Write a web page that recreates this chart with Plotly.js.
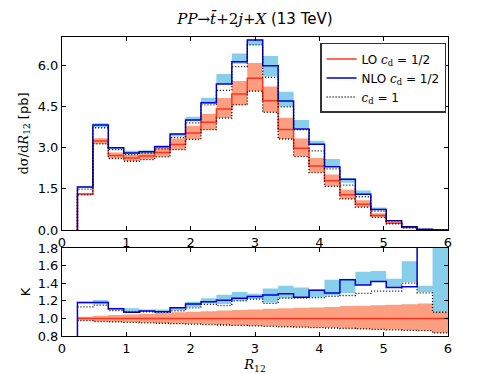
<!DOCTYPE html>
<html>
<head>
<meta charset="utf-8">
<script src="https://cdn.plot.ly/plotly-3.0.1.min.js"></script>
<style>
  html, body { margin: 0; padding: 0; background: #fff; }
  #plot { width: 498px; height: 374px; }
</style>
</head>
<body>
<div id="plot"></div>
<script>
// bin edges in R12 (24 bins)
const binEdges = [0.24, 0.48, 0.72, 0.96, 1.20, 1.44, 1.68, 1.92, 2.16, 2.40, 2.64, 2.88,
                  3.12, 3.36, 3.60, 3.84, 4.08, 4.32, 4.56, 4.80, 5.04, 5.28, 5.52, 5.76, 6.00];

// top panel: dsigma/dR12 [pb]
const loCentral = [1.31, 3.24, 2.71, 2.62, 2.69, 2.82, 3.11, 3.53, 3.92, 4.40, 4.95, 5.52,
                   4.70, 3.66, 2.97, 2.33, 1.79, 1.28, 0.94, 0.53, 0.25, 0.088, 0.012, 0.002];
const loHigh    = [1.34, 3.34, 2.82, 2.74, 2.82, 2.99, 3.33, 3.79, 4.23, 4.80, 5.42, 6.07,
                   5.22, 4.08, 3.33, 2.62, 2.02, 1.46, 1.08, 0.61, 0.29, 0.10, 0.014, 0.002];
const loCd1     = [1.28, 3.13, 2.60, 2.50, 2.56, 2.66, 2.92, 3.30, 3.65, 4.07, 4.55, 5.05,
                   4.28, 3.31, 2.67, 2.09, 1.59, 1.13, 0.83, 0.46, 0.22, 0.076, 0.010, 0.002];
const nloCentral = [1.56, 3.82, 2.99, 2.80, 2.85, 3.03, 3.49, 4.00, 4.63, 5.31, 6.12, 6.91,
                    5.97, 4.69, 3.67, 3.12, 2.30, 1.85, 1.30, 0.75, 0.34, 0.12, 0.025, 0.004];
const nloLow    = [1.55, 3.74, 2.94, 2.76, 2.82, 2.98, 3.40, 3.96, 4.58, 5.31, 6.05, 6.73,
                   5.58, 4.48, 3.70, 3.10, 2.30, 1.72, 1.30, 0.75, 0.34, 0.12, 0.02, 0.003];
const nloHigh   = [1.60, 3.88, 3.02, 2.88, 2.90, 3.08, 3.52, 4.12, 4.81, 5.67, 6.42, 6.93,
                   6.33, 5.03, 4.00, 3.25, 2.58, 1.88, 1.44, 0.82, 0.36, 0.145, 0.03, 0.005];
const nloCd1    = [1.49, 3.72, 2.92, 2.74, 2.80, 2.95, 3.36, 3.90, 4.55, 5.08, 5.94, 6.73,
                   5.55, 4.48, 3.65, 2.88, 2.22, 1.63, 1.21, 0.69, 0.33, 0.12, 0.02, 0.003];

// bottom panel: K factor and LO ratio
const kCentral = [1.18, 1.18, 1.11, 1.07, 1.085, 1.075, 1.12, 1.165, 1.19, 1.205, 1.23, 1.25,
                  1.265, 1.28, 1.24, 1.32, 1.29, 1.44, 1.38, 1.42, 1.35, 1.36, 2.5, 2.5];
const kLow     = [1.17, 1.16, 1.10, 1.07, 1.08, 1.07, 1.09, 1.13, 1.17, 1.16, 1.20, 1.22,
                  1.18, 1.23, 1.24, 1.24, 1.26, 1.29, 1.38, 1.42, 1.355, 1.41, 1.30, 1.07];
const kHigh    = [1.19, 1.21, 1.12, 1.115, 1.10, 1.10, 1.13, 1.19, 1.23, 1.27, 1.30, 1.28,
                  1.34, 1.37, 1.35, 1.33, 1.44, 1.45, 1.53, 1.54, 1.45, 1.65, 1.37, 2.5];
const kCd1     = [1.13, 1.15, 1.09, 1.07, 1.075, 1.07, 1.085, 1.12, 1.16, 1.145, 1.20, 1.22,
                  1.17, 1.23, 1.23, 1.235, 1.25, 1.26, 1.285, 1.31, 1.31, 1.40, 1.29, 1.07];
const ratioLo  = [1, 1, 1, 1, 1, 1, 1, 1, 1, 1, 1, 1, 1, 1, 1, 1, 1, 1, 1, 1, 1, 1, 1, 1];
const ratioHigh = [1.02, 1.03, 1.04, 1.045, 1.05, 1.06, 1.07, 1.075, 1.08, 1.09, 1.095, 1.10,
                   1.11, 1.115, 1.12, 1.125, 1.13, 1.14, 1.145, 1.15, 1.155, 1.16, 1.17, 1.18];
const ratioCd1  = [0.975, 0.965, 0.96, 0.955, 0.95, 0.945, 0.94, 0.935, 0.93, 0.925, 0.92, 0.915,
                   0.91, 0.905, 0.90, 0.895, 0.89, 0.885, 0.88, 0.875, 0.87, 0.865, 0.86, 0.835];

const salmon = "#fc9e80";
const sky = "#87ceeb";
const red = "#ff3322";
const blue = "#0000d8";
const dots = "1px,2px";
const serif = "'DejaVu Serif'";

// histogram as step line; optional start value draws the left vertical edge
function step(vals, start) {
    let x = binEdges.slice();
    let y = vals.concat([vals[vals.length - 1]]);
    if (start !== undefined) {
        x = [binEdges[0]].concat(x);
        y = [start].concat(y);
    }
    return {x: x, y: y};
}

function band(low, high, color, xa, ya) {
    const a = step(low), b = step(high);
    return [
        {x: a.x, y: a.y, xaxis: xa, yaxis: ya, mode: "lines", line: {shape: "hv", width: 0},
         showlegend: false, hoverinfo: "skip"},
        {x: b.x, y: b.y, xaxis: xa, yaxis: ya, mode: "lines", line: {shape: "hv", width: 0},
         fill: "tonexty", fillcolor: color, showlegend: false, hoverinfo: "skip"}
    ];
}

function line(vals, start, color, dash, width, xa, ya, name) {
    const s = step(vals, start);
    return {x: s.x, y: s.y, xaxis: xa, yaxis: ya, mode: "lines",
            line: {shape: "hv", color: color, dash: dash, width: width},
            name: name || "", showlegend: !!name};
}

const cd = "<span style=\"font-family:" + serif + "\"><i>c</i><sub>d</sub></span>";

const plotData = [].concat(
    band(loCd1, loHigh, salmon, "x", "y"),
    band(nloLow, nloHigh, sky, "x", "y"),
    [
        line(loCentral, 0, red, "solid", 1.5, "x", "y", "LO " + cd + " = 1/2"),
        line(nloCentral, 0, blue, "solid", 1.5, "x", "y", "NLO " + cd + " = 1/2"),
        line(loCd1, 0, "#000", dots, 1.3, "x", "y", cd + " = 1"),
        line(nloCd1, 0, "#000", dots, 1.3, "x", "y")
    ],
    band(ratioCd1, ratioHigh, salmon, "x2", "y2"),
    band(kLow, kHigh, sky, "x2", "y2"),
    [
        line(ratioLo, undefined, red, "solid", 1.5, "x2", "y2"),
        line(kCentral, 0, blue, "solid", 1.5, "x2", "y2"),
        line(kCd1, undefined, "#000", dots, 1.3, "x2", "y2"),
        line(ratioCd1, undefined, "#000", dots, 1.3, "x2", "y2")
    ]
);

const axisBase = {
    showline: true, linecolor: "#000", linewidth: 1, mirror: "ticks",
    ticks: "inside", ticklen: 4, tickcolor: "#000", tickwidth: 1,
    showgrid: false, zeroline: false,
    tickfont: {family: "DejaVu Sans", size: 13, color: "#000"}
};

const layout = {
    width: 498,
    height: 374,
    margin: {t: 37, r: 50, b: 38, l: 62},
    paper_bgcolor: "#fff",
    plot_bgcolor: "#fff",
    font: {family: "DejaVu Sans", size: 13, color: "#000"},
    title: {
        text: "<span style=\"font-family:" + serif + "\"><i>PP</i>\u2192<i>t\u0304</i>+2<i>j</i>+<i>X</i></span> (13 TeV)",
        x: 0.512, xanchor: "center", y: 0.95, yanchor: "middle",
        font: {family: "DejaVu Sans", size: 15, color: "#000"}
    },
    showlegend: true,
    legend: {
        x: 0.995, xanchor: "right", y: 0.98, yanchor: "top",
        traceorder: "normal",
        bgcolor: "#fff", bordercolor: "#333", borderwidth: 1.5,
        font: {family: "DejaVu Sans", size: 12, color: "#000"},
        tracegroupgap: 0
    },
    xaxis: Object.assign({}, axisBase, {
        domain: [0, 1], anchor: "y", range: [0, 6],
        tickvals: [0, 1, 2, 3, 4, 5, 6]
    }),
    yaxis: Object.assign({}, axisBase, {
        domain: [0.3545, 1], anchor: "x", range: [0, 7.02],
        tickvals: [0, 1.5, 3, 4.5, 6], tickformat: ".1f",
        title: {text: "<span style=\"font-family:" + serif + "\">d\u03c3/d<i>R</i><sub>12</sub></span> [pb]",
                font: {size: 13}, standoff: 6}
    }),
    xaxis2: Object.assign({}, axisBase, {
        domain: [0, 1], anchor: "y2", range: [0, 6],
        tickvals: [0, 1, 2, 3, 4, 5, 6],
        title: {text: "<span style=\"font-family:" + serif + "\"><i>R</i><sub>12</sub></span>",
                font: {size: 13}, standoff: 6}
    }),
    yaxis2: Object.assign({}, axisBase, {
        domain: [0, 0.2943], anchor: "x2", range: [0.8, 1.8],
        tickvals: [0.8, 1.0, 1.2, 1.4, 1.6, 1.8], tickformat: ".1f",
        title: {text: "K", font: {size: 13}, standoff: 4}
    })
};

Plotly.newPlot("plot", plotData, layout, {displayModeBar: false, responsive: false});
</script>
</body>
</html>
